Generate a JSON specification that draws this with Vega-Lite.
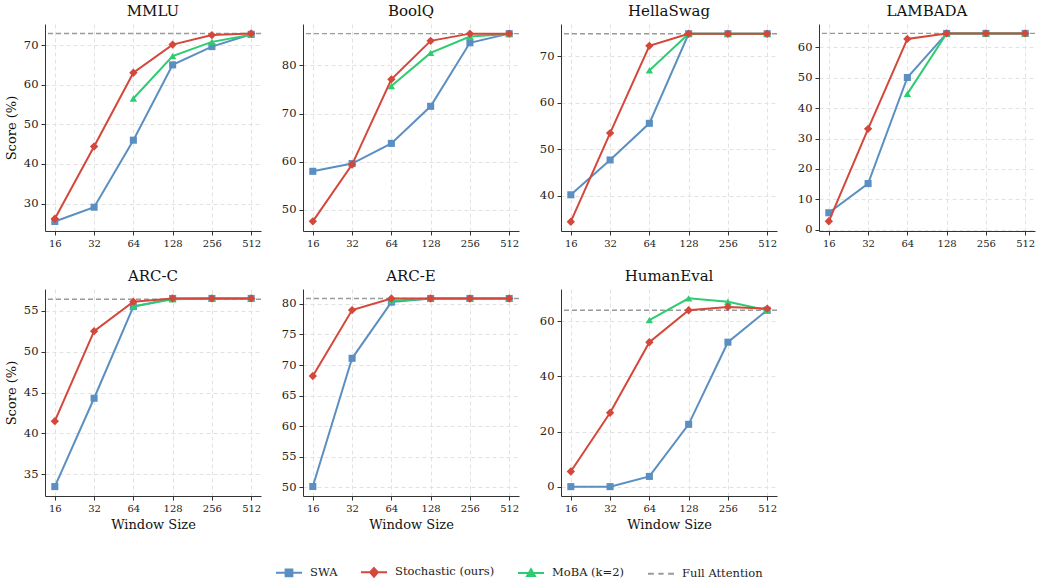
{
  "$schema": "https://vega.github.io/schema/vega-lite/v6.json",
  "background": "white",
  "padding": {"left": 5, "right": 3, "top": 4, "bottom": 2},
  "bounds": "flush",
  "columns": 4,
  "spacing": {"row": 58, "column": 42},
  "data": {"values": [
    {"b":"MMLU","m":"SWA","w":16,"s":25.5},{"b":"MMLU","m":"SWA","w":32,"s":29.1},{"b":"MMLU","m":"SWA","w":64,"s":46.0},{"b":"MMLU","m":"SWA","w":128,"s":65.0},{"b":"MMLU","m":"SWA","w":256,"s":69.6},{"b":"MMLU","m":"SWA","w":512,"s":72.7},
    {"b":"MMLU","m":"Stochastic (ours)","w":16,"s":26.2},{"b":"MMLU","m":"Stochastic (ours)","w":32,"s":44.4},{"b":"MMLU","m":"Stochastic (ours)","w":64,"s":63.0},{"b":"MMLU","m":"Stochastic (ours)","w":128,"s":70.1},{"b":"MMLU","m":"Stochastic (ours)","w":256,"s":72.5},{"b":"MMLU","m":"Stochastic (ours)","w":512,"s":72.9},
    {"b":"MMLU","m":"MoBA (k=2)","w":64,"s":56.5},{"b":"MMLU","m":"MoBA (k=2)","w":128,"s":67.2},{"b":"MMLU","m":"MoBA (k=2)","w":256,"s":70.8},{"b":"MMLU","m":"MoBA (k=2)","w":512,"s":72.6},
    {"b":"MMLU","m":"Full Attention","s":72.9},
    {"b":"BoolQ","m":"SWA","w":16,"s":58.0},{"b":"BoolQ","m":"SWA","w":32,"s":59.6},{"b":"BoolQ","m":"SWA","w":64,"s":63.8},{"b":"BoolQ","m":"SWA","w":128,"s":71.5},{"b":"BoolQ","m":"SWA","w":256,"s":84.7},{"b":"BoolQ","m":"SWA","w":512,"s":86.6},
    {"b":"BoolQ","m":"Stochastic (ours)","w":16,"s":47.6},{"b":"BoolQ","m":"Stochastic (ours)","w":32,"s":59.4},{"b":"BoolQ","m":"Stochastic (ours)","w":64,"s":77.1},{"b":"BoolQ","m":"Stochastic (ours)","w":128,"s":85.1},{"b":"BoolQ","m":"Stochastic (ours)","w":256,"s":86.6},{"b":"BoolQ","m":"Stochastic (ours)","w":512,"s":86.6},
    {"b":"BoolQ","m":"MoBA (k=2)","w":64,"s":75.7},{"b":"BoolQ","m":"MoBA (k=2)","w":128,"s":82.6},{"b":"BoolQ","m":"MoBA (k=2)","w":256,"s":86.0},{"b":"BoolQ","m":"MoBA (k=2)","w":512,"s":86.5},
    {"b":"BoolQ","m":"Full Attention","s":86.6},
    {"b":"HellaSwag","m":"SWA","w":16,"s":40.2},{"b":"HellaSwag","m":"SWA","w":32,"s":47.7},{"b":"HellaSwag","m":"SWA","w":64,"s":55.6},{"b":"HellaSwag","m":"SWA","w":128,"s":74.9},{"b":"HellaSwag","m":"SWA","w":256,"s":74.9},{"b":"HellaSwag","m":"SWA","w":512,"s":74.9},
    {"b":"HellaSwag","m":"Stochastic (ours)","w":16,"s":34.4},{"b":"HellaSwag","m":"Stochastic (ours)","w":32,"s":53.5},{"b":"HellaSwag","m":"Stochastic (ours)","w":64,"s":72.3},{"b":"HellaSwag","m":"Stochastic (ours)","w":128,"s":74.9},{"b":"HellaSwag","m":"Stochastic (ours)","w":256,"s":74.9},{"b":"HellaSwag","m":"Stochastic (ours)","w":512,"s":74.9},
    {"b":"HellaSwag","m":"MoBA (k=2)","w":64,"s":67.0},{"b":"HellaSwag","m":"MoBA (k=2)","w":128,"s":74.9},{"b":"HellaSwag","m":"MoBA (k=2)","w":256,"s":74.9},{"b":"HellaSwag","m":"MoBA (k=2)","w":512,"s":74.9},
    {"b":"HellaSwag","m":"Full Attention","s":74.9},
    {"b":"LAMBADA","m":"SWA","w":16,"s":5.6},{"b":"LAMBADA","m":"SWA","w":32,"s":15.2},{"b":"LAMBADA","m":"SWA","w":64,"s":50.1},{"b":"LAMBADA","m":"SWA","w":128,"s":64.6},{"b":"LAMBADA","m":"SWA","w":256,"s":64.6},{"b":"LAMBADA","m":"SWA","w":512,"s":64.6},
    {"b":"LAMBADA","m":"Stochastic (ours)","w":16,"s":2.8},{"b":"LAMBADA","m":"Stochastic (ours)","w":32,"s":33.2},{"b":"LAMBADA","m":"Stochastic (ours)","w":64,"s":62.8},{"b":"LAMBADA","m":"Stochastic (ours)","w":128,"s":64.6},{"b":"LAMBADA","m":"Stochastic (ours)","w":256,"s":64.6},{"b":"LAMBADA","m":"Stochastic (ours)","w":512,"s":64.6},
    {"b":"LAMBADA","m":"MoBA (k=2)","w":64,"s":44.7},{"b":"LAMBADA","m":"MoBA (k=2)","w":128,"s":64.6},{"b":"LAMBADA","m":"MoBA (k=2)","w":256,"s":64.6},{"b":"LAMBADA","m":"MoBA (k=2)","w":512,"s":64.6},
    {"b":"LAMBADA","m":"Full Attention","s":64.6},
    {"b":"ARC-C","m":"SWA","w":16,"s":33.5},{"b":"ARC-C","m":"SWA","w":32,"s":44.3},{"b":"ARC-C","m":"SWA","w":64,"s":55.5},{"b":"ARC-C","m":"SWA","w":128,"s":56.5},{"b":"ARC-C","m":"SWA","w":256,"s":56.5},{"b":"ARC-C","m":"SWA","w":512,"s":56.5},
    {"b":"ARC-C","m":"Stochastic (ours)","w":16,"s":41.5},{"b":"ARC-C","m":"Stochastic (ours)","w":32,"s":52.5},{"b":"ARC-C","m":"Stochastic (ours)","w":64,"s":56.1},{"b":"ARC-C","m":"Stochastic (ours)","w":128,"s":56.5},{"b":"ARC-C","m":"Stochastic (ours)","w":256,"s":56.5},{"b":"ARC-C","m":"Stochastic (ours)","w":512,"s":56.5},
    {"b":"ARC-C","m":"MoBA (k=2)","w":64,"s":55.5},{"b":"ARC-C","m":"MoBA (k=2)","w":128,"s":56.4},{"b":"ARC-C","m":"MoBA (k=2)","w":256,"s":56.5},{"b":"ARC-C","m":"MoBA (k=2)","w":512,"s":56.5},
    {"b":"ARC-C","m":"Full Attention","s":56.4},
    {"b":"ARC-E","m":"SWA","w":16,"s":50.1},{"b":"ARC-E","m":"SWA","w":32,"s":71.1},{"b":"ARC-E","m":"SWA","w":64,"s":80.3},{"b":"ARC-E","m":"SWA","w":128,"s":80.9},{"b":"ARC-E","m":"SWA","w":256,"s":80.9},{"b":"ARC-E","m":"SWA","w":512,"s":80.9},
    {"b":"ARC-E","m":"Stochastic (ours)","w":16,"s":68.2},{"b":"ARC-E","m":"Stochastic (ours)","w":32,"s":79.0},{"b":"ARC-E","m":"Stochastic (ours)","w":64,"s":80.9},{"b":"ARC-E","m":"Stochastic (ours)","w":128,"s":80.9},{"b":"ARC-E","m":"Stochastic (ours)","w":256,"s":80.9},{"b":"ARC-E","m":"Stochastic (ours)","w":512,"s":80.9},
    {"b":"ARC-E","m":"MoBA (k=2)","w":64,"s":80.5},{"b":"ARC-E","m":"MoBA (k=2)","w":128,"s":80.9},{"b":"ARC-E","m":"MoBA (k=2)","w":256,"s":80.9},{"b":"ARC-E","m":"MoBA (k=2)","w":512,"s":80.9},
    {"b":"ARC-E","m":"Full Attention","s":80.9},
    {"b":"HumanEval","m":"SWA","w":16,"s":0.0},{"b":"HumanEval","m":"SWA","w":32,"s":0.0},{"b":"HumanEval","m":"SWA","w":64,"s":3.7},{"b":"HumanEval","m":"SWA","w":128,"s":22.6},{"b":"HumanEval","m":"SWA","w":256,"s":52.4},{"b":"HumanEval","m":"SWA","w":512,"s":64.0},
    {"b":"HumanEval","m":"Stochastic (ours)","w":16,"s":5.5},{"b":"HumanEval","m":"Stochastic (ours)","w":32,"s":26.8},{"b":"HumanEval","m":"Stochastic (ours)","w":64,"s":52.4},{"b":"HumanEval","m":"Stochastic (ours)","w":128,"s":64.0},{"b":"HumanEval","m":"Stochastic (ours)","w":256,"s":65.2},{"b":"HumanEval","m":"Stochastic (ours)","w":512,"s":64.6},
    {"b":"HumanEval","m":"MoBA (k=2)","w":64,"s":60.4},{"b":"HumanEval","m":"MoBA (k=2)","w":128,"s":68.3},{"b":"HumanEval","m":"MoBA (k=2)","w":256,"s":67.1},{"b":"HumanEval","m":"MoBA (k=2)","w":512,"s":64.0},
    {"b":"HumanEval","m":"Full Attention","s":64.0}
  ]},
  "concat": [
    {
      "title": {"text": "MMLU", "fontWeight": 400}, "width": 216, "height": 207,
      "transform": [{"filter": {"field": "b", "equal": "MMLU"}}],
      "encoding": {"y": {"field": "s", "type": "quantitative", "scale": {"domain": [23.1, 75.3], "nice": false, "zero": false}, "axis": {"values": [30, 40, 50, 60, 70], "title": "Score (%)"}}},
      "layer": [
        {"transform": [{"filter": "false"}], "mark": {"type": "point", "filled": true, "strokeWidth": 2},
         "encoding": {
           "fill": {"field": "m", "type": "nominal", "scale": {"domain": ["SWA", "Stochastic (ours)", "MoBA (k=2)", "Full Attention"], "range": ["#5b8fc2", "#d4473a", "#2ecc71", "#9a9a9a"]}, "legend": {"title": null, "orient": "none", "legendX": 230, "legendY": 534, "direction": "horizontal", "symbolSize": 676, "symbolStrokeWidth": 2, "symbolOpacity": 1, "labelFont": "DejaVu Serif", "labelFontSize": 11.5, "labelFontWeight": 400, "labelColor": "#222", "labelOffset": 7, "columnPadding": 19}},
           "stroke": {"field": "m", "type": "nominal", "scale": {"domain": ["SWA", "Stochastic (ours)", "MoBA (k=2)", "Full Attention"], "range": ["#5b8fc2", "#d4473a", "#2ecc71", "#9a9a9a"]}, "legend": {"title": null, "orient": "none", "legendX": 230, "legendY": 534, "direction": "horizontal", "symbolSize": 676, "symbolStrokeWidth": 2, "symbolOpacity": 1, "labelFont": "DejaVu Serif", "labelFontSize": 11.5, "labelFontWeight": 400, "labelColor": "#222", "labelOffset": 7, "columnPadding": 19}},
           "shape": {"field": "m", "type": "nominal", "scale": {"domain": ["SWA", "Stochastic (ours)", "MoBA (k=2)", "Full Attention"], "range": ["M-1,0L1,0M-0.26,-0.26L0.26,-0.26L0.26,0.26L-0.26,0.26Z", "M-1,0L1,0M0,-0.33L0.3,0L0,0.33L-0.3,0Z", "M-1,0L1,0M0,-0.3L0.3,0.22L-0.3,0.22Z", "M-1,0L-0.55,0M-0.2,0L0.2,0M0.55,0L1,0"]}, "legend": {"title": null, "orient": "none", "legendX": 230, "legendY": 534, "direction": "horizontal", "symbolSize": 676, "symbolStrokeWidth": 2, "symbolOpacity": 1, "labelFont": "DejaVu Serif", "labelFontSize": 11.5, "labelFontWeight": 400, "labelColor": "#222", "labelOffset": 7, "columnPadding": 19}}
         }},
        {"transform": [{"filter": {"field": "m", "equal": "Full Attention"}}], "mark": {"type": "rule", "color": "#9a9a9a", "strokeDash": [5, 3], "strokeWidth": 1.4}, "encoding": {}},
        {"transform": [{"filter": {"field": "m", "equal": "SWA"}}], "mark": {"type": "line", "color": "#5b8fc2", "strokeWidth": 2, "point": {"shape": "square", "size": 50, "filled": true, "fill": "#5b8fc2"}}, "encoding": {"x": {"field": "w", "type": "ordinal", "scale": {"type": "point", "padding": 0.25, "domain": [16, 32, 64, 128, 256, 512]}, "axis": {"labelAngle": 0, "title": null}}}},
        {"transform": [{"filter": {"field": "m", "equal": "MoBA (k=2)"}}], "mark": {"type": "line", "color": "#2ecc71", "strokeWidth": 2, "point": {"shape": "triangle-up", "size": 55, "filled": true, "fill": "#2ecc71"}}, "encoding": {"x": {"field": "w", "type": "ordinal", "scale": {"type": "point", "padding": 0.25, "domain": [16, 32, 64, 128, 256, 512]}, "axis": {"labelAngle": 0, "title": null}}}},
        {"transform": [{"filter": {"field": "m", "equal": "Stochastic (ours)"}}], "mark": {"type": "line", "color": "#d4473a", "strokeWidth": 2, "point": {"shape": "diamond", "size": 70, "filled": true, "fill": "#d4473a"}}, "encoding": {"x": {"field": "w", "type": "ordinal", "scale": {"type": "point", "padding": 0.25, "domain": [16, 32, 64, 128, 256, 512]}, "axis": {"labelAngle": 0, "title": null}}}}
      ]
    },
    {
      "title": {"text": "BoolQ", "fontWeight": 400}, "width": 216, "height": 207,
      "transform": [{"filter": {"field": "b", "equal": "BoolQ"}}],
      "encoding": {"y": {"field": "s", "type": "quantitative", "scale": {"domain": [45.6, 88.6], "nice": false, "zero": false}, "axis": {"values": [50, 60, 70, 80], "title": null}}},
      "layer": [
        {"transform": [{"filter": {"field": "m", "equal": "Full Attention"}}], "mark": {"type": "rule", "color": "#9a9a9a", "strokeDash": [5, 3], "strokeWidth": 1.4}, "encoding": {}},
        {"transform": [{"filter": {"field": "m", "equal": "SWA"}}], "mark": {"type": "line", "color": "#5b8fc2", "strokeWidth": 2, "point": {"shape": "square", "size": 50, "filled": true, "fill": "#5b8fc2"}}, "encoding": {"x": {"field": "w", "type": "ordinal", "scale": {"type": "point", "padding": 0.25, "domain": [16, 32, 64, 128, 256, 512]}, "axis": {"labelAngle": 0, "title": null}}}},
        {"transform": [{"filter": {"field": "m", "equal": "MoBA (k=2)"}}], "mark": {"type": "line", "color": "#2ecc71", "strokeWidth": 2, "point": {"shape": "triangle-up", "size": 55, "filled": true, "fill": "#2ecc71"}}, "encoding": {"x": {"field": "w", "type": "ordinal", "scale": {"type": "point", "padding": 0.25, "domain": [16, 32, 64, 128, 256, 512]}, "axis": {"labelAngle": 0, "title": null}}}},
        {"transform": [{"filter": {"field": "m", "equal": "Stochastic (ours)"}}], "mark": {"type": "line", "color": "#d4473a", "strokeWidth": 2, "point": {"shape": "diamond", "size": 70, "filled": true, "fill": "#d4473a"}}, "encoding": {"x": {"field": "w", "type": "ordinal", "scale": {"type": "point", "padding": 0.25, "domain": [16, 32, 64, 128, 256, 512]}, "axis": {"labelAngle": 0, "title": null}}}}
      ]
    },
    {
      "title": {"text": "HellaSwag", "fontWeight": 400}, "width": 216, "height": 207,
      "transform": [{"filter": {"field": "b", "equal": "HellaSwag"}}],
      "encoding": {"y": {"field": "s", "type": "quantitative", "scale": {"domain": [32.4, 77.0], "nice": false, "zero": false}, "axis": {"values": [40, 50, 60, 70], "title": null}}},
      "layer": [
        {"transform": [{"filter": {"field": "m", "equal": "Full Attention"}}], "mark": {"type": "rule", "color": "#9a9a9a", "strokeDash": [5, 3], "strokeWidth": 1.4}, "encoding": {}},
        {"transform": [{"filter": {"field": "m", "equal": "SWA"}}], "mark": {"type": "line", "color": "#5b8fc2", "strokeWidth": 2, "point": {"shape": "square", "size": 50, "filled": true, "fill": "#5b8fc2"}}, "encoding": {"x": {"field": "w", "type": "ordinal", "scale": {"type": "point", "padding": 0.25, "domain": [16, 32, 64, 128, 256, 512]}, "axis": {"labelAngle": 0, "title": null}}}},
        {"transform": [{"filter": {"field": "m", "equal": "MoBA (k=2)"}}], "mark": {"type": "line", "color": "#2ecc71", "strokeWidth": 2, "point": {"shape": "triangle-up", "size": 55, "filled": true, "fill": "#2ecc71"}}, "encoding": {"x": {"field": "w", "type": "ordinal", "scale": {"type": "point", "padding": 0.25, "domain": [16, 32, 64, 128, 256, 512]}, "axis": {"labelAngle": 0, "title": null}}}},
        {"transform": [{"filter": {"field": "m", "equal": "Stochastic (ours)"}}], "mark": {"type": "line", "color": "#d4473a", "strokeWidth": 2, "point": {"shape": "diamond", "size": 70, "filled": true, "fill": "#d4473a"}}, "encoding": {"x": {"field": "w", "type": "ordinal", "scale": {"type": "point", "padding": 0.25, "domain": [16, 32, 64, 128, 256, 512]}, "axis": {"labelAngle": 0, "title": null}}}}
      ]
    },
    {
      "title": {"text": "LAMBADA", "fontWeight": 400}, "width": 216, "height": 207,
      "transform": [{"filter": {"field": "b", "equal": "LAMBADA"}}],
      "encoding": {"y": {"field": "s", "type": "quantitative", "scale": {"domain": [-0.4, 67.7], "nice": false, "zero": false}, "axis": {"values": [0, 10, 20, 30, 40, 50, 60], "title": null}}},
      "layer": [
        {"transform": [{"filter": {"field": "m", "equal": "Full Attention"}}], "mark": {"type": "rule", "color": "#9a9a9a", "strokeDash": [5, 3], "strokeWidth": 1.4}, "encoding": {}},
        {"transform": [{"filter": {"field": "m", "equal": "SWA"}}], "mark": {"type": "line", "color": "#5b8fc2", "strokeWidth": 2, "point": {"shape": "square", "size": 50, "filled": true, "fill": "#5b8fc2"}}, "encoding": {"x": {"field": "w", "type": "ordinal", "scale": {"type": "point", "padding": 0.25, "domain": [16, 32, 64, 128, 256, 512]}, "axis": {"labelAngle": 0, "title": null}}}},
        {"transform": [{"filter": {"field": "m", "equal": "MoBA (k=2)"}}], "mark": {"type": "line", "color": "#2ecc71", "strokeWidth": 2, "point": {"shape": "triangle-up", "size": 55, "filled": true, "fill": "#2ecc71"}}, "encoding": {"x": {"field": "w", "type": "ordinal", "scale": {"type": "point", "padding": 0.25, "domain": [16, 32, 64, 128, 256, 512]}, "axis": {"labelAngle": 0, "title": null}}}},
        {"transform": [{"filter": {"field": "m", "equal": "Stochastic (ours)"}}], "mark": {"type": "line", "color": "#d4473a", "strokeWidth": 2, "point": {"shape": "diamond", "size": 70, "filled": true, "fill": "#d4473a"}}, "encoding": {"x": {"field": "w", "type": "ordinal", "scale": {"type": "point", "padding": 0.25, "domain": [16, 32, 64, 128, 256, 512]}, "axis": {"labelAngle": 0, "title": null}}}}
      ]
    },
    {
      "title": {"text": "ARC-C", "fontWeight": 400}, "width": 216, "height": 207,
      "transform": [{"filter": {"field": "b", "equal": "ARC-C"}}],
      "encoding": {"y": {"field": "s", "type": "quantitative", "scale": {"domain": [32.35, 57.65], "nice": false, "zero": false}, "axis": {"values": [35, 40, 45, 50, 55], "title": "Score (%)"}}},
      "layer": [
        {"transform": [{"filter": {"field": "m", "equal": "Full Attention"}}], "mark": {"type": "rule", "color": "#9a9a9a", "strokeDash": [5, 3], "strokeWidth": 1.4}, "encoding": {}},
        {"transform": [{"filter": {"field": "m", "equal": "SWA"}}], "mark": {"type": "line", "color": "#5b8fc2", "strokeWidth": 2, "point": {"shape": "square", "size": 50, "filled": true, "fill": "#5b8fc2"}}, "encoding": {"x": {"field": "w", "type": "ordinal", "scale": {"type": "point", "padding": 0.25, "domain": [16, 32, 64, 128, 256, 512]}, "axis": {"labelAngle": 0, "title": "Window Size"}}}},
        {"transform": [{"filter": {"field": "m", "equal": "MoBA (k=2)"}}], "mark": {"type": "line", "color": "#2ecc71", "strokeWidth": 2, "point": {"shape": "triangle-up", "size": 55, "filled": true, "fill": "#2ecc71"}}, "encoding": {"x": {"field": "w", "type": "ordinal", "scale": {"type": "point", "padding": 0.25, "domain": [16, 32, 64, 128, 256, 512]}, "axis": {"labelAngle": 0, "title": "Window Size"}}}},
        {"transform": [{"filter": {"field": "m", "equal": "Stochastic (ours)"}}], "mark": {"type": "line", "color": "#d4473a", "strokeWidth": 2, "point": {"shape": "diamond", "size": 70, "filled": true, "fill": "#d4473a"}}, "encoding": {"x": {"field": "w", "type": "ordinal", "scale": {"type": "point", "padding": 0.25, "domain": [16, 32, 64, 128, 256, 512]}, "axis": {"labelAngle": 0, "title": "Window Size"}}}}
      ]
    },
    {
      "title": {"text": "ARC-E", "fontWeight": 400}, "width": 216, "height": 207,
      "transform": [{"filter": {"field": "b", "equal": "ARC-E"}}],
      "encoding": {"y": {"field": "s", "type": "quantitative", "scale": {"domain": [48.55, 82.45], "nice": false, "zero": false}, "axis": {"values": [50, 55, 60, 65, 70, 75, 80], "title": null}}},
      "layer": [
        {"transform": [{"filter": {"field": "m", "equal": "Full Attention"}}], "mark": {"type": "rule", "color": "#9a9a9a", "strokeDash": [5, 3], "strokeWidth": 1.4}, "encoding": {}},
        {"transform": [{"filter": {"field": "m", "equal": "SWA"}}], "mark": {"type": "line", "color": "#5b8fc2", "strokeWidth": 2, "point": {"shape": "square", "size": 50, "filled": true, "fill": "#5b8fc2"}}, "encoding": {"x": {"field": "w", "type": "ordinal", "scale": {"type": "point", "padding": 0.25, "domain": [16, 32, 64, 128, 256, 512]}, "axis": {"labelAngle": 0, "title": "Window Size"}}}},
        {"transform": [{"filter": {"field": "m", "equal": "MoBA (k=2)"}}], "mark": {"type": "line", "color": "#2ecc71", "strokeWidth": 2, "point": {"shape": "triangle-up", "size": 55, "filled": true, "fill": "#2ecc71"}}, "encoding": {"x": {"field": "w", "type": "ordinal", "scale": {"type": "point", "padding": 0.25, "domain": [16, 32, 64, 128, 256, 512]}, "axis": {"labelAngle": 0, "title": "Window Size"}}}},
        {"transform": [{"filter": {"field": "m", "equal": "Stochastic (ours)"}}], "mark": {"type": "line", "color": "#d4473a", "strokeWidth": 2, "point": {"shape": "diamond", "size": 70, "filled": true, "fill": "#d4473a"}}, "encoding": {"x": {"field": "w", "type": "ordinal", "scale": {"type": "point", "padding": 0.25, "domain": [16, 32, 64, 128, 256, 512]}, "axis": {"labelAngle": 0, "title": "Window Size"}}}}
      ]
    },
    {
      "title": {"text": "HumanEval", "fontWeight": 400}, "width": 216, "height": 207,
      "transform": [{"filter": {"field": "b", "equal": "HumanEval"}}],
      "encoding": {"y": {"field": "s", "type": "quantitative", "scale": {"domain": [-3.4, 71.7], "nice": false, "zero": false}, "axis": {"values": [0, 20, 40, 60], "title": null}}},
      "layer": [
        {"transform": [{"filter": {"field": "m", "equal": "Full Attention"}}], "mark": {"type": "rule", "color": "#9a9a9a", "strokeDash": [5, 3], "strokeWidth": 1.4}, "encoding": {}},
        {"transform": [{"filter": {"field": "m", "equal": "SWA"}}], "mark": {"type": "line", "color": "#5b8fc2", "strokeWidth": 2, "point": {"shape": "square", "size": 50, "filled": true, "fill": "#5b8fc2"}}, "encoding": {"x": {"field": "w", "type": "ordinal", "scale": {"type": "point", "padding": 0.25, "domain": [16, 32, 64, 128, 256, 512]}, "axis": {"labelAngle": 0, "title": "Window Size"}}}},
        {"transform": [{"filter": {"field": "m", "equal": "MoBA (k=2)"}}], "mark": {"type": "line", "color": "#2ecc71", "strokeWidth": 2, "point": {"shape": "triangle-up", "size": 55, "filled": true, "fill": "#2ecc71"}}, "encoding": {"x": {"field": "w", "type": "ordinal", "scale": {"type": "point", "padding": 0.25, "domain": [16, 32, 64, 128, 256, 512]}, "axis": {"labelAngle": 0, "title": "Window Size"}}}},
        {"transform": [{"filter": {"field": "m", "equal": "Stochastic (ours)"}}], "mark": {"type": "line", "color": "#d4473a", "strokeWidth": 2, "point": {"shape": "diamond", "size": 70, "filled": true, "fill": "#d4473a"}}, "encoding": {"x": {"field": "w", "type": "ordinal", "scale": {"type": "point", "padding": 0.25, "domain": [16, 32, 64, 128, 256, 512]}, "axis": {"labelAngle": 0, "title": "Window Size"}}}}
      ]
    }
  ],
  "config": {
    "font": "DejaVu Serif",
    "view": {"stroke": null},
    "axis": {"labelFont": "DejaVu Serif", "titleFont": "DejaVu Serif", "labelColor": "#222", "titleColor": "#111", "domainColor": "#333", "tickColor": "#333", "gridColor": "#e2e2e2", "gridDash": [4, 3], "grid": true, "tickSize": 4, "labelFontSize": 11.5, "titleFontSize": 13, "titleFontWeight": 400, "labelPadding": 3, "titlePadding": 5},
    "axisX": {"labelFontSize": 10},
    "title": {"font": "DejaVu Serif", "fontSize": 15, "fontWeight": 400, "offset": 5, "color": "#111"}
  }
}
